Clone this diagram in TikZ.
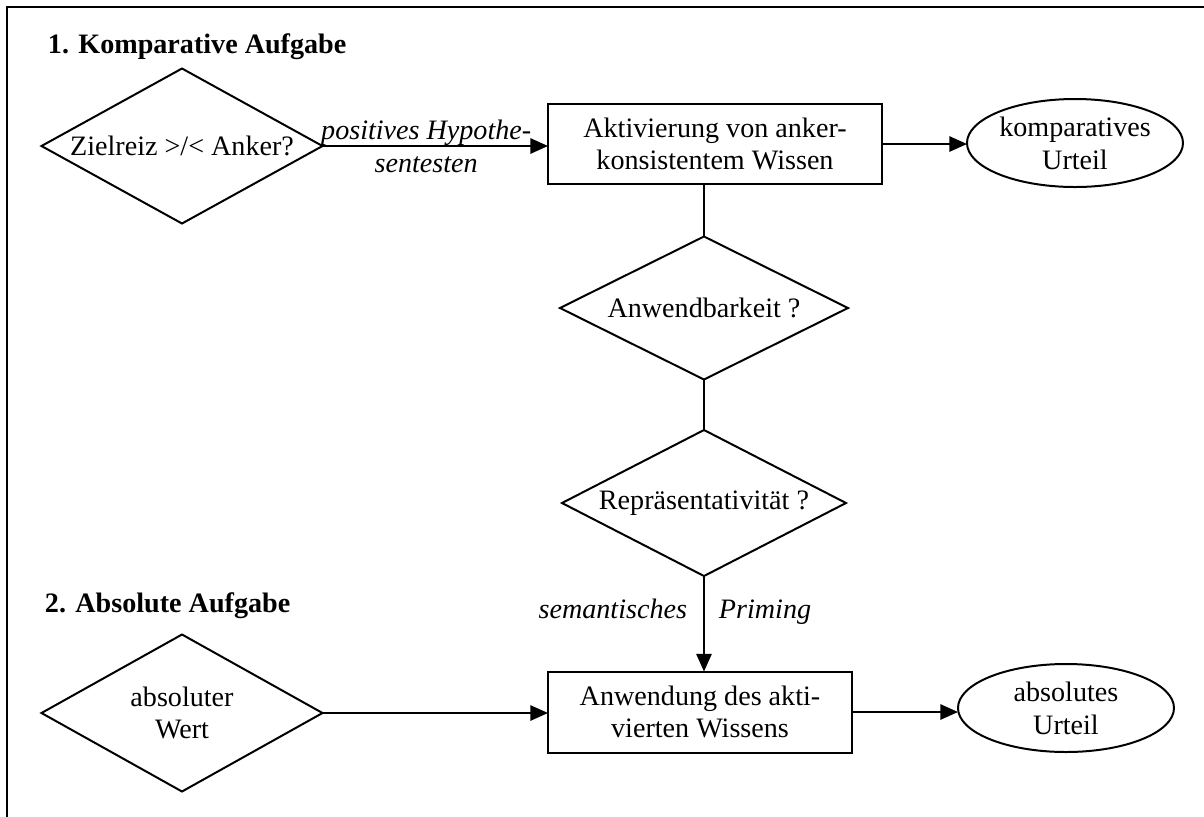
\documentclass[tikz,border=0pt]{standalone}
\usepackage{fontspec}
\setmainfont{Liberation Serif}
\usetikzlibrary{shapes.geometric, arrows.meta}

\begin{document}
\begin{tikzpicture}[x=0.015cm, y=-0.015cm, line width=0.85pt,
  font=\fontsize{12}{14}\selectfont,
  arr/.style={-{Triangle[length=7.5pt, width=6.5pt]}},
  query/.style={draw, shape=diamond, inner sep=0pt, outer sep=0pt, align=center},
  task/.style={draw, rectangle, inner sep=0pt, outer sep=0pt, align=center},
  result/.style={draw, ellipse, inner sep=0pt, outer sep=0pt, align=center,
    minimum width=3.24cm, minimum height=1.32cm},
  heading/.style={anchor=base west, inner sep=0pt, font=\fontsize{12}{14}\selectfont\bfseries},
  path label/.style={font=\fontsize{12}{14}\selectfont\itshape}]
  \useasboundingbox (0, 0) rectangle (1204, 816);

  % Frame (runs off the page on the right and at the bottom)
  \draw (7, 830) -- (7, 7) -- (1220, 7);

  % Headings
  \node[heading] (head1) at (47, 53) {1. Komparative Aufgabe};
  \node[heading] (head2) at (44, 612) {2. Absolute Aufgabe};

  % Comparative task
  \node[query, aspect=1.81, minimum width=4.215cm, minimum height=2.325cm] (target) at (182, 146) {Zielreiz >/< Anker?};
  \node[task, minimum width=5.01cm, minimum height=1.2cm] (activate) at (715, 144) {Aktivierung von anker-\\konsistentem Wissen};
  \node[result] (compjudge) at (1075, 143) {komparatives\\Urteil};

  \draw[arr] (target.east) -- node[pos=0.46, path label, align=center] {positives Hypothe-\\sentesten} (target.east -| activate.west);
  \draw[arr] (activate.east) -- (activate.east -| compjudge.west);

  % Checks
  \node[query, aspect=2.01, minimum width=4.32cm, minimum height=2.145cm] (applic) at (704, 308) {Anwendbarkeit ?};
  \node[query, aspect=1.95, minimum width=4.26cm, minimum height=2.19cm] (repres) at (704, 503) {Repräsentativität ?};

  \draw (applic.north) -- (applic.north |- activate.south);
  \draw (applic.south) -- (repres.north);

  % Absolute task
  \node[query, aspect=1.79, minimum width=4.215cm, minimum height=2.355cm] (absval) at (182, 713) {absoluter\\Wert};
  \node[task, minimum width=4.56cm, minimum height=1.215cm] (apply) at (700, 712) {Anwendung des akti-\\vierten Wissens};
  \node[result] (absjudge) at (1066, 708) {absolutes\\Urteil};

  \draw[arr] (repres.south) -- (repres.south |- apply.north);
  \node[path label, anchor=base east, inner sep=0pt] (semlabel) at (688, 618) {semantisches};
  \node[path label, anchor=base west, inner sep=0pt] (primlabel) at (718, 618) {Priming};

  \draw[arr] (absval.east) -- (absval.east -| apply.west);
  \draw[arr] (apply.east) -- (apply.east -| absjudge.west);
\end{tikzpicture}
\end{document}
